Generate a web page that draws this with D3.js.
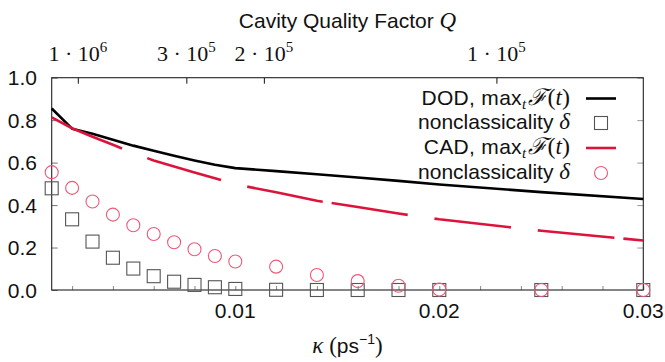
<!DOCTYPE html>
<html>
<head>
<meta charset="utf-8">
<script src="https://cdn.jsdelivr.net/npm/d3@7"></script>
<style>
  html, body { margin: 0; padding: 0; background: #fff; }
  svg { display: block; }
</style>
</head>
<body>
<svg id="chart" width="665" height="362"></svg>
<script>
// Cavity decay rate kappa (ps^-1) at which each quantity was evaluated
const kappa = [0.001, 0.002, 0.003, 0.004, 0.005, 0.006, 0.007, 0.008, 0.009, 0.010,
               0.012, 0.014, 0.016, 0.018, 0.020, 0.025, 0.030];

// DOD: maximal fidelity max_t F(t)
const dodFidelity = [0.855, 0.760, 0.736, 0.708, 0.680, 0.656, 0.632, 0.610, 0.590, 0.574,
                     0.560, 0.545, 0.530, 0.514, 0.497, 0.461, 0.429];
// DOD: nonclassicality delta
const dodDelta = [0.479, 0.333, 0.228, 0.152, 0.101, 0.065, 0.039, 0.024, 0.013, 0.005,
                  0.001, 0.0, 0.0, 0.0, 0.0, 0.0, 0.0];
// CAD: maximal fidelity max_t F(t)
const cadFidelity = [0.813, 0.762, 0.722, 0.684, 0.645, 0.610, 0.582, 0.554, 0.526, 0.498,
                     0.460, 0.420, 0.391, 0.360, 0.333, 0.279, 0.233];
// CAD: nonclassicality delta
const cadDelta = [0.555, 0.481, 0.417, 0.355, 0.305, 0.264, 0.225, 0.192, 0.160, 0.134,
                  0.110, 0.071, 0.042, 0.020, 0.002, 0.0, 0.0];

// Tick values
const xTickLabels = [0.01, 0.02, 0.03];
const yTickValues = [0.0, 0.2, 0.4, 0.6, 0.8, 1.0];
// Quality factor ticks on the top axis, Q = omega / kappa
const omega = 2280; // ps^-1
const qTicks = [1e6, 3e5, 2e5, 1e5];
const qTickMantissa = ["1", "3", "2", "1"];
const qTickExponent = ["6", "5", "5", "5"];

const svg = d3.select("#chart");
const plot = { left: 51.7, right: 643.3, top: 77.7, bottom: 290 };

const x = d3.scaleLinear().domain([0.001, 0.03]).range([plot.left, plot.right]);
const y = d3.scaleLinear().domain([0, 1]).range([plot.bottom, plot.top]);

const sansFont = "Liberation Sans, Arial, sans-serif";
const serifFont = "Liberation Serif, DejaVu Serif, serif";
const fs = 21;

// ----- axes -----
// bottom: ticks every 0.002, labels at 0.01 multiples
const bottomTicks = d3.range(1, 16).map(i => +(i * 0.002).toFixed(3));
const xAxis = d3.axisBottom(x).tickValues(bottomTicks).tickSize(-4).tickFormat("");
const gx = svg.append("g").attr("transform", `translate(0,${plot.bottom})`).call(xAxis);
gx.select(".domain").remove();
gx.selectAll(".tick line").attr("stroke", "#888");

svg.append("g").selectAll("text").data(xTickLabels).join("text")
  .attr("x", d => x(d)).attr("y", 318)
  .attr("font-family", sansFont)
  .attr("text-anchor", "middle").attr("font-size", fs).attr("fill", "#111")
  .text(d => d3.format(".2f")(d));

// left
const yAxis = d3.axisLeft(y).tickValues(yTickValues).tickSize(-6).tickFormat("");
const gy = svg.append("g").attr("transform", `translate(${plot.left},0)`).call(yAxis);
gy.select(".domain").remove();
gy.selectAll(".tick line").attr("stroke", "#777");

svg.append("g").selectAll("text").data(yTickValues).join("text")
  .attr("x", 37).attr("y", d => y(d) + 7.5)
  .attr("font-family", sansFont)
  .attr("text-anchor", "end").attr("font-size", fs).attr("fill", "#111")
  .text(d => d3.format(".1f")(d));

// right mirror ticks
const yAxisR = d3.axisRight(y).tickValues(yTickValues).tickSize(-6).tickFormat("");
const gyr = svg.append("g").attr("transform", `translate(${plot.right},0)`).call(yAxisR);
gyr.select(".domain").remove();
gyr.selectAll(".tick line").attr("stroke", "#999");

// top: cavity quality factor
const qPos = q => x(omega / q);
const xAxisTop = d3.axisTop(x).tickValues(qTicks.map(q => omega / q)).tickSize(-6).tickFormat("");
const gt = svg.append("g").attr("transform", `translate(0,${plot.top})`).call(xAxisTop);
gt.select(".domain").remove();
gt.selectAll(".tick line").attr("stroke", "#111");

const qLab = svg.append("g").selectAll("text").data(qTicks).join("text")
  .attr("x", d => qPos(d)).attr("y", 61)
  .attr("text-anchor", "middle").attr("font-family", serifFont)
  .attr("font-size", 22).attr("fill", "#111");
qLab.append("tspan").text((d, i) => qTickMantissa[i] + " \u00B7 10");
qLab.append("tspan").attr("dy", -9).attr("font-size", 15).text((d, i) => qTickExponent[i]);

// frame
svg.append("rect")
  .attr("x", plot.left).attr("y", plot.top)
  .attr("width", plot.right - plot.left).attr("height", plot.bottom - plot.top)
  .attr("fill", "none").attr("stroke", "#222").attr("stroke-width", 1.1);

// ----- titles -----
const title = svg.append("text")
  .attr("x", (plot.left + plot.right) / 2).attr("y", 28)
  .attr("text-anchor", "middle").attr("font-size", fs).attr("fill", "#111");
title.append("tspan").attr("font-family", sansFont).text("Cavity Quality Factor ");
title.append("tspan").attr("font-family", serifFont).attr("font-style", "italic")
  .attr("font-size", 23).text("Q");

const xTitle = svg.append("text")
  .attr("x", (plot.left + plot.right) / 2).attr("y", 353)
  .attr("text-anchor", "middle").attr("font-size", fs).attr("fill", "#111");
xTitle.append("tspan").attr("font-family", serifFont).attr("font-style", "italic")
  .attr("font-size", 23).text("\u03BA");
xTitle.append("tspan").attr("font-family", serifFont).attr("font-size", 23).text(" (");
xTitle.append("tspan").attr("font-family", sansFont).text("ps");
xTitle.append("tspan").attr("font-family", sansFont).attr("font-size", 14).attr("dy", -9).text("\u22121");
xTitle.append("tspan").attr("font-family", serifFont).attr("font-size", 23).attr("dy", 9).text(")");

// ----- series -----
const red = "#dc143c";
const line = d3.line().x((d, i) => x(kappa[i])).y(d => y(d));

svg.append("path").datum(dodFidelity)
  .attr("d", line).attr("fill", "none")
  .attr("stroke", "#000").attr("stroke-width", 2.6)
  .attr("stroke-linejoin", "round");

svg.append("path").datum(cadFidelity)
  .attr("d", line).attr("fill", "none")
  .attr("stroke", red).attr("stroke-width", 2.6)
  .attr("stroke-dasharray", "77 27 77 27 77 9")
  .attr("stroke-linejoin", "round");

const sq = 13, cr = 6.5;
const sqColor = "#555", ciColor = "#ea5a78";

svg.append("g").selectAll("rect").data(dodDelta).join("rect")
  .attr("x", (d, i) => x(kappa[i]) - sq / 2).attr("y", d => y(d) - sq / 2)
  .attr("width", sq).attr("height", sq)
  .attr("fill", "none").attr("stroke", sqColor).attr("stroke-width", 1.1);

svg.append("g").selectAll("circle").data(cadDelta).join("circle")
  .attr("cx", (d, i) => x(kappa[i])).attr("cy", d => y(d)).attr("r", cr)
  .attr("fill", "none").attr("stroke", ciColor).attr("stroke-width", 1.1);

// ----- legend -----
const legendTextX = 570, sampleX0 = 586, sampleX1 = 616, sampleCx = 601;
const rows = [98.5, 123, 148, 173];

function fidelityLabel(g, yy, name) {
  const t = g.append("text").attr("x", legendTextX).attr("y", yy + 6)
    .attr("text-anchor", "end").attr("font-size", fs).attr("fill", "#111");
  t.append("tspan").attr("font-family", sansFont).attr("letter-spacing", 0.3).text(name + ", max");
  t.append("tspan").attr("font-family", serifFont).attr("font-style", "italic")
    .attr("font-size", 15).attr("dy", 4).text("t");
  t.append("tspan").attr("font-family", "DejaVu Serif, serif").attr("font-style", "italic")
    .attr("font-size", 23).attr("dx", 1.5).attr("dy", -4).text("\u2131");
  t.append("tspan").attr("font-family", serifFont).attr("font-size", 24).attr("dx", 1).text("(");
  t.append("tspan").attr("font-family", serifFont).attr("font-style", "italic").attr("font-size", 23).text("t");
  t.append("tspan").attr("font-family", serifFont).attr("font-size", 24).text(")");
}
function deltaLabel(g, yy) {
  const t = g.append("text").attr("x", legendTextX).attr("y", yy + 6)
    .attr("text-anchor", "end").attr("font-size", fs).attr("fill", "#111");
  t.append("tspan").attr("font-family", sansFont).text("nonclassicality ");
  t.append("tspan").attr("font-family", serifFont).attr("font-style", "italic")
    .attr("font-size", 23).text("\u03B4");
}

const lg = svg.append("g");
fidelityLabel(lg, rows[0], "DOD");
lg.append("line").attr("x1", sampleX0).attr("x2", sampleX1).attr("y1", rows[0]).attr("y2", rows[0])
  .attr("stroke", "#000").attr("stroke-width", 2.6);
deltaLabel(lg, rows[1]);
lg.append("rect").attr("x", sampleCx - sq / 2).attr("y", rows[1] - sq / 2)
  .attr("width", sq).attr("height", sq)
  .attr("fill", "none").attr("stroke", sqColor).attr("stroke-width", 1.1);
fidelityLabel(lg, rows[2], "CAD");
lg.append("line").attr("x1", sampleX0).attr("x2", sampleX1).attr("y1", rows[2]).attr("y2", rows[2])
  .attr("stroke", red).attr("stroke-width", 2.6);
deltaLabel(lg, rows[3]);
lg.append("circle").attr("cx", sampleCx).attr("cy", rows[3]).attr("r", cr)
  .attr("fill", "none").attr("stroke", ciColor).attr("stroke-width", 1.1);
</script>
</body>
</html>
